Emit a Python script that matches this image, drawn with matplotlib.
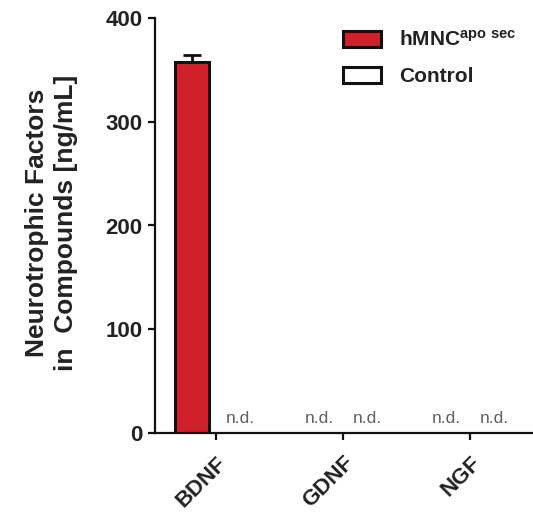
import numpy as np
import matplotlib.pyplot as plt

plt.rcParams["font.family"] = ["Liberation Sans", "DejaVu Sans"]
plt.rcParams["mathtext.default"] = "regular"

categories = ["BDNF", "GDNF", "NGF"]
hmnc_mean = [358, None, None]  # None = not detected
hmnc_sem = [6, None, None]
control_mean = [None, None, None]

RED = "#d0212a"

fig = plt.figure(figsize=(5.33, 5.15), dpi=100)
ax = fig.add_axes([155 / 533, 82 / 515, 376.5 / 533, 415 / 515])

x = np.arange(len(categories))
off = 0.19
width = 0.27

series = [
    (hmnc_mean, hmnc_sem, -off, RED),
    (control_mean, [None] * 3, off, "white"),
]
for means, errs, dx, col in series:
    for xi, m, e in zip(x, means, errs):
        if m is None:
            ax.text(xi + dx, 10, "n.d.", ha="center", va="baseline",
                    fontsize=12.5, color="#606060")
            continue
        ax.bar(xi + dx, m, width, color=col, edgecolor="#111111", lw=2.2,
               zorder=2)
        if e is not None:
            ax.errorbar(xi + dx, m, yerr=[[0], [e]], fmt="none",
                        ecolor="#111111", elinewidth=2, capsize=6.5,
                        capthick=2, zorder=3)

# legend proxies
ax.bar(np.nan, np.nan, color=RED, edgecolor="#111111", lw=2.2,
       label="hMNC$^{apo\\ sec}$")
ax.bar(np.nan, np.nan, color="white", edgecolor="#111111", lw=2.2,
       label="Control")
leg = fig.legend(loc="upper left", bbox_to_anchor=(343 / 533, 1 - 30 / 515),
                 frameon=False, fontsize=15, handlelength=1.8,
                 handleheight=0.8, handletextpad=0.9, labelspacing=0.8,
                 borderpad=0, borderaxespad=0)
for t in leg.get_texts():
    t.set_fontweight("bold")
    t.set_color("#222222")

ax.set_xlim(-0.48, 2.48)
ax.set_ylim(0, 400)
ax.set_yticks([0, 100, 200, 300, 400])
ax.set_xticks(x)
ax.set_xticklabels(categories, rotation=45, ha="right", va="top",
                   rotation_mode="anchor")

for s in ["top", "right"]:
    ax.spines[s].set_visible(False)
for s in ["left", "bottom"]:
    ax.spines[s].set_linewidth(1.6)
    ax.spines[s].set_color("#111111")

ax.tick_params(axis="both", width=1.6, length=5, color="#111111",
               labelsize=16, labelcolor="#222222")
ax.tick_params(axis="y", pad=4)
ax.tick_params(axis="x", pad=9)
for lab in ax.get_xticklabels() + ax.get_yticklabels():
    lab.set_fontweight("bold")

ax.set_ylabel("Neurotrophic Factors\nin  Compounds [ng/mL]", fontsize=19,
              fontweight="bold", color="#222222", linespacing=1.25)
ax.yaxis.set_label_coords(-0.205, 0.506)

fig.savefig("out.png", dpi=100)
